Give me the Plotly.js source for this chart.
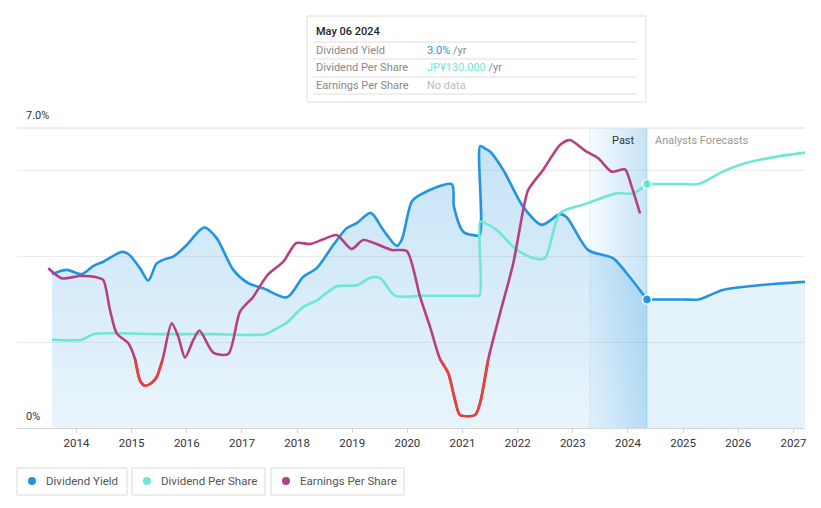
<!DOCTYPE html>
<html>
<head>
<meta charset="utf-8">
<script src="https://cdn.plot.ly/plotly-3.0.1.min.js"></script>
<style>
html,body{margin:0;padding:0;background:#fff;}
#chart{width:821px;height:508px;}
</style>
</head>
<body>
<div id="chart"></div>
<script>
// ---- Data ----
// Dividend Yield (%), past
const yieldPastX = [2013.556, 2013.822, 2014.094, 2014.305, 2014.486, 2014.820, 2014.939, 2015.151, 2015.302, 2015.454, 2015.605, 2015.755, 2015.998, 2016.239, 2016.330, 2016.542, 2016.843, 2017.115, 2017.387, 2017.817, 2018.112, 2018.356, 2018.656, 2018.899, 2019.081, 2019.335, 2019.563, 2019.806, 2019.897, 2020.078, 2020.229, 2020.803, 2020.845, 2021.014, 2021.200, 2021.310, 2021.320, 2021.400, 2021.498, 2021.739, 2022.102, 2022.435, 2022.767, 2022.889, 2023.280, 2023.733, 2023.977, 2024.344];
const yieldPastY = [3.59, 3.69, 3.59, 3.78, 3.88, 4.11, 4.06, 3.73, 3.44, 3.84, 3.94, 4.00, 4.27, 4.62, 4.68, 4.43, 3.69, 3.38, 3.26, 3.05, 3.53, 3.73, 4.27, 4.66, 4.78, 5.02, 4.62, 4.25, 4.39, 5.28, 5.44, 5.69, 5.16, 4.58, 4.50, 4.50, 6.58, 6.53, 6.45, 6.02, 5.16, 4.74, 4.99, 4.92, 4.15, 3.96, 3.61, 3.00];
// Dividend Yield (%), analyst forecast
const yieldFcX = [2024.344, 2025.0, 2025.28, 2025.72, 2026.15, 2026.63, 2027.21];
const yieldFcY = [3.00, 3.00, 3.00, 3.22, 3.30, 3.36, 3.41];

// Dividend Per Share (JPY), past
const dpsPastX = [2013.556, 2014.094, 2014.305, 2015.5, 2016.5, 2017.418, 2017.690, 2017.811, 2018.112, 2018.356, 2018.718, 2019.081, 2019.322, 2019.503, 2019.775, 2020.3, 2020.8, 2021.200, 2021.310, 2021.320, 2021.400, 2021.619, 2021.982, 2022.283, 2022.495, 2022.767, 2023.190, 2023.795, 2024.096, 2024.344];
const dpsPastY = [47, 47, 50, 50, 50, 50, 54, 56, 64.5, 68, 75.5, 76, 80, 80, 70.5, 70.5, 70.5, 70.5, 70.5, 110, 109.3, 105.5, 95, 90.5, 90.5, 114.5, 119, 125, 125, 130];
// Dividend Per Share (JPY), analyst forecast
const dpsFcX = [2024.344, 2025.0, 2025.28, 2025.72, 2026.15, 2026.63, 2027.21];
const dpsFcY = [130, 130, 130, 136.6, 141.3, 144.2, 146.7];

// Earnings Per Share (JPY)
const epsX = [2013.489, 2013.732, 2014.063, 2014.366, 2014.486, 2014.607, 2014.729, 2014.939, 2015.061, 2015.15, 2015.24, 2015.36, 2015.454, 2015.563, 2015.726, 2015.846, 2015.967, 2016.118, 2016.230, 2016.480, 2016.752, 2016.965, 2017.206, 2017.463, 2017.750, 2017.985, 2018.234, 2018.475, 2018.718, 2018.99, 2019.20, 2019.716, 2019.988, 2020.229, 2020.41, 2020.591, 2020.742, 2020.863, 2020.954, 2021.226, 2021.317, 2021.467, 2021.68, 2021.92, 2022.10, 2022.19, 2022.46, 2022.767, 2022.948, 2023.22, 2023.461, 2023.704, 2023.946, 2024.067, 2024.218];
const epsY = [136, 121, 124.5, 122.5, 118.5, 73.5, 38.5, 23.5, 0, -32, -40, -36, -27, 0, 53.5, 33.5, 2, 28.5, 42.7, 9.5, 7.5, 71, 93.5, 126, 146, 174, 172.5, 179.5, 186, 165, 178.5, 163.5, 162, 93.5, 48.5, 0, -21.5, -61.5, -84, -84, -66.5, 0, 68.5, 143.5, 223.5, 253.5, 283.5, 321, 328.5, 312.5, 301, 281, 284.5, 258.5, 218.5];

const tickYears = [2014, 2015, 2016, 2017, 2018, 2019, 2020, 2021, 2022, 2023, 2024, 2025, 2026, 2027];
const seriesNames = ['Dividend Yield', 'Dividend Per Share', 'Earnings Per Share'];
const tooltipDate = 'May 06 2024';
const tooltipValues = ['3.0%', 'JP¥130.000', 'No data'];

// ---- Styling ----
const C_BLUE = '#2394df', C_TEAL = '#6ee7d4', C_EPS = '#b6407f', C_RED = '#e8413a';
const FONT = 'Roboto, "Open Sans", Arial, sans-serif';
const L = 17, R = 805, T = 128, B = 428;
const px = x => (x - L) / (R - L);
const py = y => (B - y) / (B - T);
const pastStart = 2023.311, nowX = 2024.344;

const epsRed = epsY.map(v => v <= 0 ? v : null);

const traces = [
  // blue past fill (gradient)
  {x: yieldPastX, y: yieldPastY, type: 'scatter', mode: 'lines', line: {width: 0, shape: 'spline', smoothing: 0.8},
   fill: 'tozeroy', fillgradient: {type: 'vertical', start: 0, stop: 7,
   colorscale: [[0, 'rgba(35,148,223,0.10)'], [1, 'rgba(35,148,223,0.27)']]}, hoverinfo: 'skip', showlegend: false},
  // blue forecast fill
  {x: yieldFcX, y: yieldFcY, type: 'scatter', mode: 'lines', line: {width: 0, shape: 'spline', smoothing: 0.8},
   fill: 'tozeroy', fillcolor: 'rgba(35,148,223,0.12)', hoverinfo: 'skip', showlegend: false},
  // past band
  {x: [pastStart, nowX, nowX, pastStart, pastStart], y: [0, 0, 7, 7, 0], type: 'scatter', mode: 'lines',
   line: {width: 0}, fill: 'toself', fillgradient: {type: 'horizontal', start: pastStart, stop: nowX,
   colorscale: [[0, 'rgba(35,148,223,0.04)'], [1, 'rgba(35,148,223,0.26)']]}, hoverinfo: 'skip', showlegend: false},
  // DPS
  {x: dpsPastX, y: dpsPastY, yaxis: 'y2', type: 'scatter', mode: 'lines', line: {color: C_TEAL, width: 2.6, shape: 'spline', smoothing: 0.7}, hoverinfo: 'skip', showlegend: false},
  {x: dpsFcX, y: dpsFcY, yaxis: 'y2', type: 'scatter', mode: 'lines', line: {color: C_TEAL, width: 2.6, shape: 'spline', smoothing: 0.8}, hoverinfo: 'skip', showlegend: false},
  // EPS
  {x: epsX, y: epsY, yaxis: 'y3', type: 'scatter', mode: 'lines', line: {color: C_EPS, width: 2.6, shape: 'spline', smoothing: 0.7}, hoverinfo: 'skip', showlegend: false},
  {x: epsX, y: epsRed, yaxis: 'y3', type: 'scatter', mode: 'lines', connectgaps: false, line: {color: C_RED, width: 2.6, shape: 'spline', smoothing: 0.7}, hoverinfo: 'skip', showlegend: false},
  // Yield lines
  {x: yieldPastX, y: yieldPastY, type: 'scatter', mode: 'lines', line: {color: C_BLUE, width: 2.6, shape: 'spline', smoothing: 0.8}, hoverinfo: 'skip', showlegend: false},
  {x: yieldFcX, y: yieldFcY, type: 'scatter', mode: 'lines', line: {color: C_BLUE, width: 2.6, shape: 'spline', smoothing: 0.8}, hoverinfo: 'skip', showlegend: false},
  // markers at "now"
  {x: [yieldFcX[0]], y: [yieldFcY[0]], type: 'scatter', mode: 'markers', marker: {color: C_BLUE, size: 9, line: {color: '#fff', width: 1.5}}, hoverinfo: 'skip', showlegend: false},
  {x: [dpsFcX[0]], y: [dpsFcY[0]], yaxis: 'y2', type: 'scatter', mode: 'markers', marker: {color: C_TEAL, size: 9, line: {color: '#fff', width: 1.5}}, hoverinfo: 'skip', showlegend: false}
];

const shapes = [
  {type: 'line', xref: 'paper', yref: 'paper', x0: 0, x1: 1, y0: 1, y1: 1, line: {color: '#dcdcdc', width: 1}},
  {type: 'line', xref: 'x', yref: 'paper', x0: pastStart, x1: pastStart, y0: 0, y1: 1, line: {color: 'rgba(35,148,223,0.12)', width: 1}},
  {type: 'line', xref: 'x', yref: 'paper', x0: nowX, x1: nowX, y0: 0, y1: 1, line: {color: 'rgba(35,148,223,0.25)', width: 1}},
  // tooltip
  {type: 'rect', xref: 'paper', yref: 'paper', x0: px(307), x1: px(646), y0: py(102), y1: py(16), line: {color: '#dddddd', width: 1}, fillcolor: '#ffffff'}
];
[42, 59, 77, 94].forEach(y => shapes.push({type: 'line', xref: 'paper', yref: 'paper', x0: px(313), x1: px(637), y0: py(y), y1: py(y), line: {color: '#dedede', width: 1}}));

const annotations = [
  {xref: 'paper', yref: 'paper', x: px(24), y: py(116), text: '7.0%', showarrow: false, xanchor: 'left', yanchor: 'middle', font: {family: FONT, size: 11, color: '#333'}},
  {xref: 'paper', yref: 'paper', x: px(24), y: py(416), text: '0%', showarrow: false, xanchor: 'left', yanchor: 'middle', font: {family: FONT, size: 11, color: '#333'}},
  {xref: 'paper', yref: 'paper', x: px(637), y: py(140), text: 'Past', showarrow: false, xanchor: 'right', yanchor: 'middle', font: {family: FONT, size: 11, color: '#333'}},
  {xref: 'paper', yref: 'paper', x: px(653), y: py(140), text: 'Analysts Forecasts', showarrow: false, xanchor: 'left', yanchor: 'middle', font: {family: FONT, size: 11, color: '#999'}},
  {xref: 'paper', yref: 'paper', x: px(314), y: py(32), text: tooltipDate, showarrow: false, xanchor: 'left', yanchor: 'middle', font: {family: FONT, size: 11, color: '#222', weight: 500}}
];
const rowY = [50, 67, 85];
const valColors = [C_BLUE, C_TEAL, '#bbbbbb'];
seriesNames.forEach((n, i) => {
  annotations.push({xref: 'paper', yref: 'paper', x: px(314), y: py(rowY[i]), text: n, showarrow: false, xanchor: 'left', yanchor: 'middle', font: {family: FONT, size: 11, color: '#888'}});
  const suffix = i < 2 ? ' <span style="color:#888">/yr</span>' : '';
  annotations.push({xref: 'paper', yref: 'paper', x: px(425), y: py(rowY[i]), text: '<span style="color:' + valColors[i] + '">' + tooltipValues[i] + '</span>' + suffix, showarrow: false, xanchor: 'left', yanchor: 'middle', font: {family: FONT, size: 11, color: '#888'}});
});

// legend boxes
const legBoxes = [[17, 127], [132, 265], [271, 404]];
const legColors = [C_BLUE, C_TEAL, C_EPS];
legBoxes.forEach((b, i) => {
  shapes.push({type: 'rect', xref: 'paper', yref: 'paper', x0: px(b[0]), x1: px(b[1]), y0: py(495), y1: py(468), line: {color: '#d9d9d9', width: 1}, fillcolor: '#fff'});
  shapes.push({type: 'circle', xref: 'paper', yref: 'paper', x0: px(b[0] + 11), x1: px(b[0] + 19), y0: py(485), y1: py(477), line: {width: 0}, fillcolor: legColors[i]});
  annotations.push({xref: 'paper', yref: 'paper', x: px(b[0] + 27), y: py(481), text: seriesNames[i], showarrow: false, xanchor: 'left', yanchor: 'middle', font: {family: FONT, size: 11.5, color: '#555'}});
});

const layout = {
  width: 821, height: 508,
  margin: {l: L, r: 821 - R, t: T, b: 508 - B},
  paper_bgcolor: '#fff', plot_bgcolor: '#fff',
  showlegend: false, hovermode: false,
  xaxis: {range: [2012.921, 2027.21], tickvals: tickYears, ticktext: tickYears.map(String), showgrid: false, zeroline: false,
          showline: true, linecolor: '#d6d6d6', linewidth: 1, ticks: 'outside', ticklen: 4, tickcolor: '#d6d6d6',
          tickfont: {family: FONT, size: 11.5, color: '#333'}, fixedrange: true},
  yaxis: {range: [0, 7], tickvals: [2, 4, 6], showticklabels: false, showgrid: true, gridcolor: '#ececec', zeroline: false, fixedrange: true},
  yaxis2: {range: [0, 159.84], overlaying: 'y', visible: false, fixedrange: true},
  yaxis3: {range: [-103.5, 346.5], overlaying: 'y', visible: false, fixedrange: true},
  shapes: shapes,
  annotations: annotations
};

Plotly.newPlot('chart', traces, layout, {displayModeBar: false, staticPlot: true});
</script>
</body>
</html>
